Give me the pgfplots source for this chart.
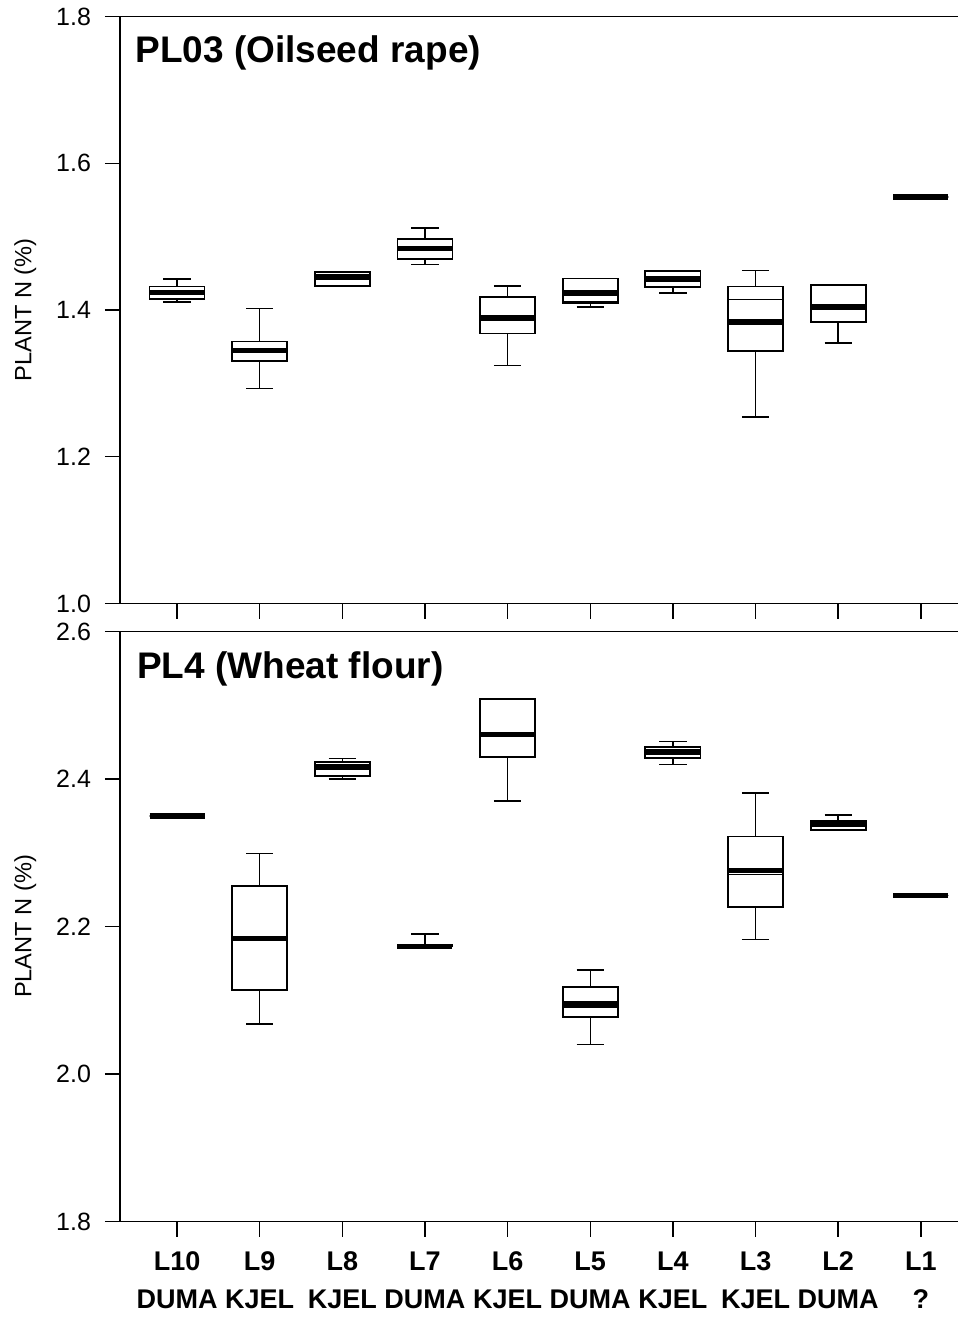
\documentclass[border=0pt]{standalone}
\usepackage{fontspec}
\setmainfont{Liberation Sans}
\usepackage{pgfplots}
\pgfplotsset{compat=1.18}
\usepgfplotslibrary{statistics}
\pgfplotsset{
  panel/.style={
    scale only axis,
    width=419pt,
    xmin=0.31, xmax=10.45,
    axis x line*=box,
    axis y line*=left,
    axis line style={line width=0.9pt},
    xtick={1,...,10},
    xtick pos=bottom,
    tick align=outside,
    major tick length=7.5pt,
    every tick/.style={black, line width=0.7pt},
    /pgf/number format/assume math mode=true,
    /pgf/number format/fixed,
    /pgf/number format/fixed zerofill,
    /pgf/number format/precision=1,
    yticklabel style={font=\fontsize{12.5}{14}\selectfont, xshift=-3.5pt},
    ylabel={PLANT N (\%)},
    ylabel style={font=\fontsize{11.8}{14}\selectfont, at={(axis description cs:-0.113,0.5)}, anchor=center},
    boxplot/draw direction=y,
    boxplot/box extend=0.666,
    boxplot/whisker extend=0.33,
    boxplot/every box/.style={line width=0.9pt},
    boxplot/every whisker/.style={line width=0.7pt},
    boxplot/every median/.style={line width=2.8pt},
  },
  bp/.style={black, solid},
  meanline/.style={black, line width=0.6pt, forget plot},
}
\begin{document}
\begin{tikzpicture}
\path[use as bounding box] (0pt,0pt) rectangle (479pt,-659.5pt);

% ---------------- top panel ----------------
\begin{axis}[panel,
  at={(60pt,-301.75pt)}, anchor=south west,
  height=293.5pt,
  ymin=1.0, ymax=1.8, ytick={1.0,1.2,1.4,1.6,1.8},
  xticklabels={},
]
\addplot[bp, boxplot prepared={draw position=1, lower whisker=1.411, lower quartile=1.415, median=1.424, upper quartile=1.432, upper whisker=1.442}] coordinates {};
\addplot[bp, boxplot prepared={draw position=2, lower whisker=1.293, lower quartile=1.330, median=1.345, upper quartile=1.357, upper whisker=1.402}] coordinates {};
\addplot[bp, boxplot prepared={draw position=3, lower whisker=1.433, lower quartile=1.433, median=1.445, upper quartile=1.452, upper whisker=1.452}] coordinates {};
\addplot[bp, boxplot prepared={draw position=4, lower whisker=1.462, lower quartile=1.469, median=1.484, upper quartile=1.497, upper whisker=1.512}] coordinates {};
\addplot[bp, boxplot prepared={draw position=5, lower whisker=1.324, lower quartile=1.368, median=1.3895, upper quartile=1.418, upper whisker=1.433}] coordinates {};
\addplot[bp, boxplot prepared={draw position=6, lower whisker=1.404, lower quartile=1.410, median=1.423, upper quartile=1.443, upper whisker=1.443}] coordinates {};
\addplot[bp, boxplot prepared={draw position=7, lower whisker=1.423, lower quartile=1.431, median=1.442, upper quartile=1.4536, upper whisker=1.4536}] coordinates {};
\addplot[bp, boxplot prepared={draw position=8, lower whisker=1.254, lower quartile=1.344, median=1.384, upper quartile=1.432, upper whisker=1.454}] coordinates {};
\addplot[bp, boxplot prepared={draw position=9, lower whisker=1.355, lower quartile=1.384, median=1.404, upper quartile=1.434, upper whisker=1.434}] coordinates {};
\addplot[bp, boxplot prepared={draw position=10, lower whisker=1.554, lower quartile=1.554, median=1.554, upper quartile=1.554, upper whisker=1.554}] coordinates {};
% mean lines
\addplot[meanline] coordinates {(0.667,1.421) (1.333,1.421)};
\addplot[meanline] coordinates {(5.667,1.412) (6.333,1.412)};
\addplot[meanline] coordinates {(7.667,1.414) (8.333,1.414)};
\node[anchor=base west, font=\bfseries\fontsize{18.5}{22}\selectfont, inner sep=0pt]
  at (axis description cs:0.018,0.9225) {PL03 (Oilseed rape)};
\end{axis}

% ---------------- bottom panel ----------------
\begin{axis}[panel,
  at={(60pt,-610.75pt)}, anchor=south west,
  height=295pt,
  ymin=1.8, ymax=2.6, ytick={1.8,2.0,2.2,2.4,2.6},
  xticklabels={{L10\\DUMA},{L9\\KJEL},{L8\\KJEL},{L7\\DUMA},{L6\\KJEL},{L5\\DUMA},{L4\\KJEL},{L3\\KJEL},{L2\\DUMA},{L1\\?}},
  xticklabel style={font=\bfseries\fontsize{13.5}{19}\selectfont, align=center, yshift=-4pt},
]
\addplot[bp, boxplot prepared={draw position=1, lower whisker=2.350, lower quartile=2.350, median=2.350, upper quartile=2.350, upper whisker=2.350}] coordinates {};
\addplot[bp, boxplot prepared={draw position=2, lower whisker=2.068, lower quartile=2.114, median=2.184, upper quartile=2.2545, upper whisker=2.299}] coordinates {};
\addplot[bp, boxplot prepared={draw position=3, lower whisker=2.400, lower quartile=2.4045, median=2.416, upper quartile=2.4235, upper whisker=2.428}] coordinates {};
\addplot[bp, boxplot prepared={draw position=4, lower whisker=2.173, lower quartile=2.173, median=2.173, upper quartile=2.175, upper whisker=2.190}] coordinates {};
\addplot[bp, boxplot prepared={draw position=5, lower whisker=2.370, lower quartile=2.430, median=2.4606, upper quartile=2.509, upper whisker=2.509}] coordinates {};
\addplot[bp, boxplot prepared={draw position=6, lower whisker=2.040, lower quartile=2.077, median=2.095, upper quartile=2.118, upper whisker=2.141}] coordinates {};
\addplot[bp, boxplot prepared={draw position=7, lower whisker=2.420, lower quartile=2.428, median=2.437, upper quartile=2.443, upper whisker=2.4506}] coordinates {};
\addplot[bp, boxplot prepared={draw position=8, lower whisker=2.182, lower quartile=2.226, median=2.276, upper quartile=2.322, upper whisker=2.381}] coordinates {};
\addplot[bp, boxplot prepared={draw position=9, lower whisker=2.331, lower quartile=2.331, median=2.339, upper quartile=2.343, upper whisker=2.351}] coordinates {};
\addplot[bp, boxplot prepared={draw position=10, lower whisker=2.242, lower quartile=2.242, median=2.242, upper quartile=2.242, upper whisker=2.242}] coordinates {};
% mean lines
\addplot[meanline] coordinates {(1.667,2.181) (2.333,2.181)};
\addplot[meanline] coordinates {(5.667,2.091) (6.333,2.091)};
\addplot[meanline] coordinates {(7.667,2.271) (8.333,2.271)};
\node[anchor=base west, font=\bfseries\fontsize{18.5}{22}\selectfont, inner sep=0pt]
  at (axis description cs:0.020,0.921) {PL4 (Wheat flour)};
\end{axis}
\end{tikzpicture}
\end{document}
